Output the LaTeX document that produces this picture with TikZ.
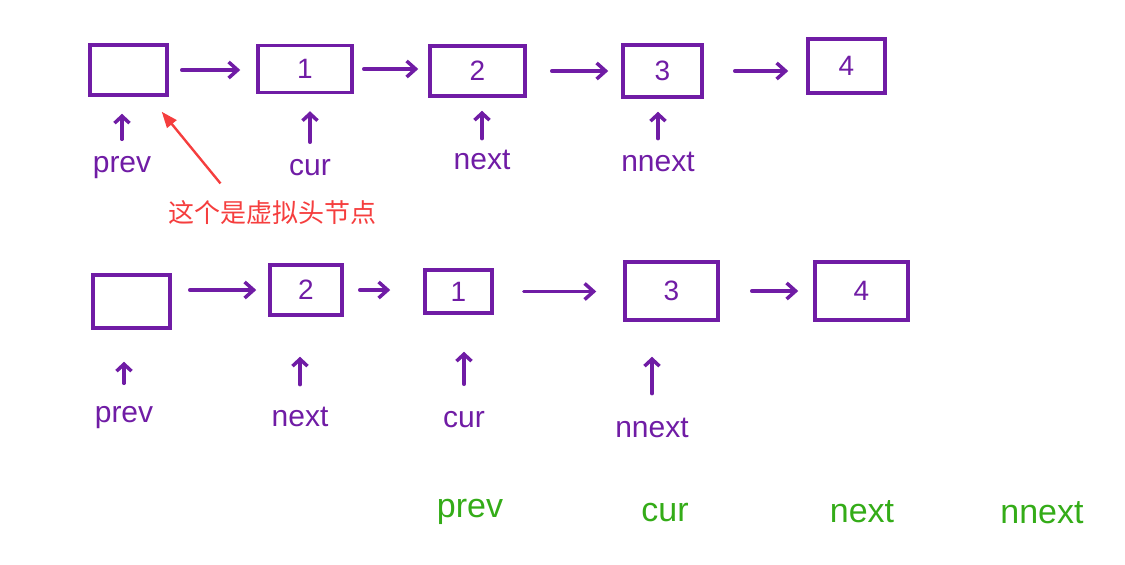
\documentclass[tikz,border=0pt]{standalone}
\usepackage{fontspec}
\setmainfont{Liberation Sans}
\newfontfamily\cjk{Noto Sans CJK SC}
\usetikzlibrary{arrows.meta}

\definecolor{inkpurple}{RGB}{112,28,165}
\definecolor{inkgreen}{RGB}{52,172,24}
\definecolor{notered}{RGB}{245,62,62}

\tikzset{
  listbox/.style={draw=inkpurple,line width=3.5pt,inner sep=0pt,
    font=\fontsize{28}{30}\selectfont,text=inkpurple},
  link/.style={draw=inkpurple,line width=3.5pt,line cap=round,
    -{Straight Barb[length=9pt,width=16pt]}},
  ptr/.style={draw=inkpurple,line width=3.5pt,line cap=round,
    -{Straight Barb[length=7pt,width=15pt]}},
  lbl/.style={text=inkpurple,font=\fontsize{30}{32}\selectfont},
  glbl/.style={text=inkgreen,font=\fontsize{34}{36}\selectfont},
}

\begin{document}
\begin{tikzpicture}[x=1pt,y=-1pt]
  \useasboundingbox (0,0) rectangle (1125,565);

  % first row: before the swap
  \foreach \nm/\cx/\cy/\w/\h/\val in {a0/128.5/70/77/50/,a1/305/69/94/47/1,
      a2/477.5/71/95/50/2,a3/662.5/71/79/52/3,a4/846.5/66/77/54/4}
    {\node[listbox,minimum width=\w pt,minimum height=\h pt] (\nm) at (\cx,\cy) {\val};}

  \draw[link,shorten <=13pt,shorten >=16pt] (a0.east) -- (a0.east -| a1.west);
  \draw[link,shorten <=10pt,shorten >=10pt] (a1.east) -- (a1.east -| a2.west);
  \draw[link,shorten <=25pt,shorten >=13pt] (a2.east) -- (a2.east -| a3.west);
  \draw[link,shorten <=31pt,shorten >=18pt] (a3.east) -- (a3.east -| a4.west);

  \node[lbl] (pa0) at (122,168) {prev};
  \node[lbl] (pa1) at (310,168) {cur};
  \node[lbl] (pa2) at (482,160) {next};
  \node[lbl] (pa3) at (658,162) {nnext};

  \draw[ptr,shorten <=14pt,shorten >=17pt] (pa0.north) -- (pa0.north |- a0.south);
  \draw[ptr,shorten <=14pt,shorten >=17pt] (pa1.north) -- (pa1.north |- a1.south);
  \draw[ptr,shorten <=8pt,shorten >=13pt] (pa2.north) -- (pa2.north |- a2.south);
  \draw[ptr,shorten <=10pt,shorten >=13pt] (pa3.north) -- (pa3.north |- a3.south);

  % dummy head remark
  \node[text=notered,font=\cjk\fontsize{26}{28}\selectfont] (note) at (272,213) {这个是虚拟头节点};
  \draw[notered,line width=2.4pt,-{Triangle[length=16pt,width=12pt]}]
    ([xshift=56pt,yshift=14pt]note.north west) -- ([xshift=-7pt,yshift=-15pt]a0.south east);

  % second row: after the swap
  \foreach \nm/\cx/\cy/\w/\h/\val in {b0/131.5/301.5/77/53/,b1/306/290/72/50/2,
      b2/458.5/291.5/67/43/1,b3/671.5/291/93/58/3,b4/861.5/291/93/58/4}
    {\node[listbox,minimum width=\w pt,minimum height=\h pt] (\nm) at (\cx,\cy) {\val};}

  \draw[link,shorten <=18pt,shorten >=12pt] (b0.east |- b1.east) -- (b1.west);
  \draw[link,shorten <=16pt,shorten >=33pt] (b1.east) -- (b1.east -| b2.west);
  \draw[link,shorten <=30pt,shorten >=27pt] (b2.east) -- (b2.east -| b3.west);
  \draw[link,shorten <=32pt,shorten >=15pt] (b3.east) -- (b4.west);

  \node[lbl] (pb0) at (124,418) {prev};
  \node[lbl] (pb1) at (300,417) {next};
  \node[lbl] (pb2) at (464,420) {cur};
  \node[lbl] (pb3) at (652,428) {nnext};

  \draw[ptr,shorten <=20pt,shorten >=32pt] (pb0.north) -- (pb0.north |- b0.south);
  \draw[ptr,shorten <=19pt,shorten >=40pt] (pb1.north) -- (pb1.north |- b1.south);
  \draw[ptr,shorten <=24pt,shorten >=37pt] (pb2.north) -- (pb2.north |- b2.south);
  \draw[ptr,shorten <=21pt,shorten >=35pt] (pb3.north) -- (pb3.north |- b3.south);

  % order to keep in mind
  \node[glbl] (g0) at (470,512) {prev};
  \node[glbl] (g1) at (665,513) {cur};
  \node[glbl] (g2) at (862,512) {next};
  \node[glbl] (g3) at (1042,513) {nnext};
\end{tikzpicture}
\end{document}
